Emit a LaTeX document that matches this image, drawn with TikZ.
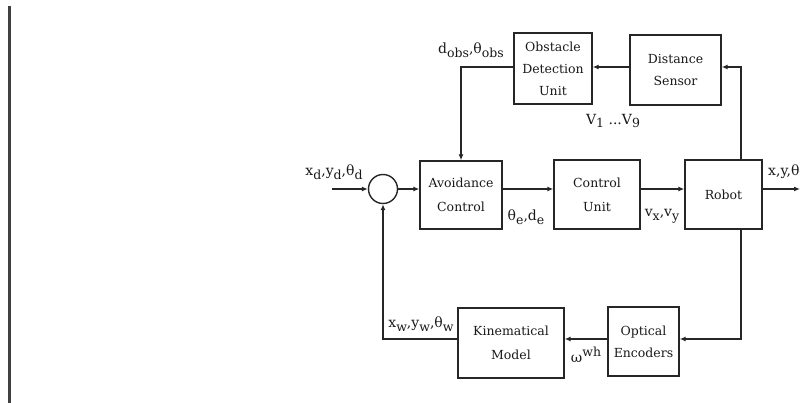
\documentclass[tikz,border=0pt]{standalone}
\usepackage{fontspec}
\setmainfont{DejaVu Serif}
\usetikzlibrary{arrows.meta}
\newcommand\lowsub[1]{\raisebox{-0.5ex}{\fontsize{12.5}{14}\selectfont #1}}
\newcommand\highsup[1]{\raisebox{0.8ex}{\fontsize{12.5}{14}\selectfont #1}}
\tikzset{
  blockbox/.style={draw=black!85, line width=1.4pt, align=center, inner sep=0pt,
    font=\fontsize{12.5}{22}\selectfont, text=black!90},
  sig/.style={draw=black!85, line width=1.2pt},
  sigarrow/.style={sig, -{Latex[length=6pt,width=5pt]}},
  lbl/.style={font=\fontsize{14}{16}\selectfont, text=black!90, inner sep=0pt}
}
\begin{document}
\begin{tikzpicture}[x=1pt,y=-1pt]
  \useasboundingbox (0,0) rectangle (803,403);
  % page margin rule
  \draw[line width=3pt, black!75] (9.5,6) -- (9.5,403);

  % blocks
  \node[blockbox, minimum width=78pt, minimum height=71pt] (obst) at (553,68.5) {Obstacle\\Detection\\Unit};
  \node[blockbox, minimum width=91pt, minimum height=70pt] (dist) at (675.5,70) {Distance\\Sensor};
  \node[blockbox, minimum width=82pt, minimum height=68pt, font=\fontsize{12.5}{24}\selectfont] (avoid) at (461,195) {Avoidance\\Control};
  \node[blockbox, minimum width=86pt, minimum height=69pt, font=\fontsize{12.5}{24}\selectfont] (ctrl) at (597,194.5) {Control\\Unit};
  \node[blockbox, minimum width=77pt, minimum height=69pt] (robot) at (723.5,194.5) {Robot};
  \node[blockbox, minimum width=106pt, minimum height=70pt, font=\fontsize{12.5}{24}\selectfont] (kin) at (511,343) {Kinematical\\Model};
  \node[blockbox, minimum width=71pt, minimum height=69pt] (opt) at (643.5,341.5) {Optical\\Encoders};

  % summing junction
  \node[draw=black!85, line width=1.4pt, circle, minimum size=29pt, inner sep=0pt] (sum) at (383,189) {};

  % routing points
  \coordinate (in) at (332,189);
  \coordinate (out) at (800,189);
  \coordinate (rt) at (741,67);
  \coordinate (lb) at (741,339);

  % forward path
  \draw[sigarrow] (in) -- (sum.west);
  \draw[sigarrow] (sum.east) -- (sum.east -| avoid.west);
  \draw[sigarrow] (avoid.east |- sum) -- (ctrl.west |- sum);
  \draw[sigarrow] (ctrl.east |- sum) -- (robot.west |- sum);
  \draw[sigarrow] (robot.east |- sum) -- (out);

  % sensing loop
  \draw[sigarrow] (robot.north -| rt) -- (rt) -- (dist.east |- rt);
  \draw[sigarrow] (dist.west |- rt) -- (obst.east |- rt);
  \draw[sigarrow] (obst.west |- rt) -| (avoid.north);

  % odometry loop
  \draw[sigarrow] (robot.south -| lb) -- (lb) -- (opt.east |- lb);
  \draw[sigarrow] (opt.west |- lb) -- (kin.east |- lb);
  \draw[sigarrow] (kin.west |- lb) -| (sum.south);

  % signal labels
  \node[lbl] (lobs) at (471,50) {d\lowsub{obs},θ\lowsub{obs}};
  \node[lbl] (lv) at (613,121) {V\lowsub{1} ...V\lowsub{9}};
  \node[lbl] (lin) at (334,172) {x\lowsub{d},y\lowsub{d},θ\lowsub{d}};
  \node[lbl] (le) at (526,217) {θ\lowsub{e},d\lowsub{e}};
  \node[lbl] (lvxy) at (662,216) {v\lowsub{x},v\lowsub{y}};
  \node[lbl, anchor=west] (lout) at (768,172) {x,y,θ};
  \node[lbl] (lw) at (421,324) {x\lowsub{w},y\lowsub{w},θ\lowsub{w}};
  \node[lbl] (lom) at (586,355) {ω\highsup{wh}};
\end{tikzpicture}
\end{document}
